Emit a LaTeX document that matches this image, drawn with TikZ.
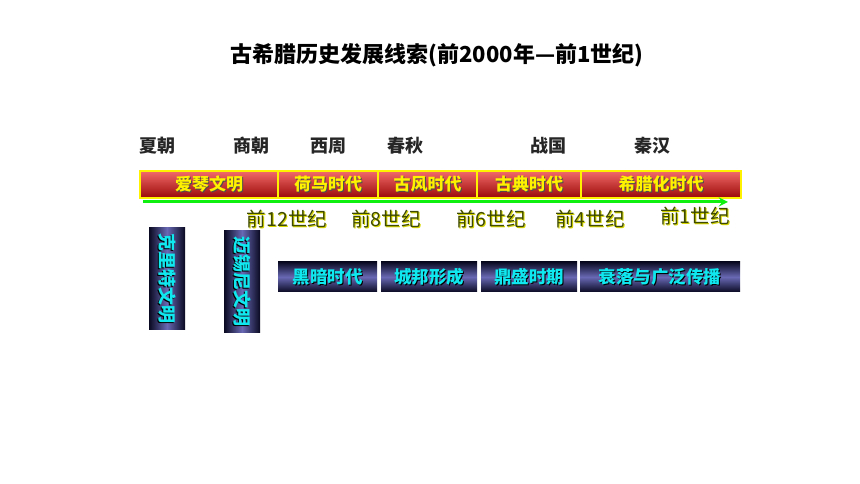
\documentclass[tikz,border=0pt]{standalone}
\usepackage{fontspec}
\setmainfont{Noto Sans CJK SC}
\usetikzlibrary{positioning,arrows}

\definecolor{bartop}{HTML}{F26A6A}
\definecolor{barmid}{HTML}{D42A2A}
\definecolor{barbot}{HTML}{9A0808}
\definecolor{boxedge}{HTML}{0A0A22}
\definecolor{boxmid}{HTML}{6868B4}
\definecolor{boxtext}{HTML}{10E8F0}
\definecolor{olive}{HTML}{3E4A00}
\definecolor{oliveshade}{HTML}{D8D800}
\definecolor{arrowgreen}{HTML}{10F010}

\pgfdeclareverticalshading{darkrow}{100bp}{color(0bp)=(boxedge); color(25bp)=(boxedge);
    color(50bp)=(boxmid); color(75bp)=(boxedge); color(100bp)=(boxedge)}
\pgfdeclarehorizontalshading{darkcol}{100bp}{color(0bp)=(boxedge); color(25bp)=(boxedge);
    color(50bp)=(boxmid); color(75bp)=(boxedge); color(100bp)=(boxedge)}

% text with a shadow one point down and right
\newcommand{\shtext}[3]{\makebox[0pt][l]{\hspace{1pt}\raisebox{-1pt}{\textcolor{#2}{#3}}}\textcolor{#1}{#3}}

\begin{document}
\begin{tikzpicture}[x=1pt,y=1pt,>=stealth,
    era box/.style={draw=yellow,line width=1.8pt,outer sep=0pt,inner sep=0pt,
        minimum height=27,top color=bartop,bottom color=barbot,
        font=\fontsize{17}{17}\selectfont\bfseries},
    dark box/.style={inner sep=0pt,outer sep=0pt,minimum height=30,shading=darkrow,
        font=\fontsize{17.5}{17.5}\selectfont\bfseries},
    tall box/.style={inner sep=0pt,outer sep=0pt,minimum width=36,shading=darkcol,
        font=\fontsize{18}{18}\selectfont\bfseries},
    dynasty/.style={font=\fontsize{18}{18}\selectfont\bfseries,text=black!85},
    century/.style={font=\fontsize{19.5}{19.5}\selectfont}]

    \useasboundingbox (0,0) rectangle (860,484);

    \node[font=\fontsize{22}{22}\selectfont\bfseries] (title) at (437,429)
        {古希腊历史发展线索(前2000年—前1世纪)};

    % dynasties
    \node[dynasty] (y1) at (157,338) {夏朝};
    \node[dynasty] (y2) at (251,338) {商朝};
    \node[dynasty] (y3) at (328,338) {西周};
    \node[dynasty] (y4) at (405,338) {春秋};
    \node[dynasty] (y5) at (548,338) {战国};
    \node[dynasty] (y6) at (652,338) {秦汉};

    % red bar
    \node[era box,minimum width=138] (e1) at (209,299.5) {\shtext{yellow}{black!70}{爱琴文明}};
    \node[era box,minimum width=100] (e2) [right=0pt of e1] {\shtext{yellow}{black!70}{荷马时代}};
    \node[era box,minimum width=99]  (e3) [right=0pt of e2] {\shtext{yellow}{black!70}{古风时代}};
    \node[era box,minimum width=104] (e4) [right=0pt of e3] {\shtext{yellow}{black!70}{古典时代}};
    \node[era box,minimum width=160] (e5) [right=0pt of e4] {\shtext{yellow}{black!70}{希腊化时代}};

    % time line
    \coordinate (t0) at (143,282);
    \coordinate (t1) at (728,282);
    \draw[->,arrowgreen,line width=3pt] (t0) -- (t1);

    \node[century] (c1) at (287,264) {\shtext{olive}{oliveshade}{前12世纪}};
    \node[century] (c2) at (386,264) {\shtext{olive}{oliveshade}{前8世纪}};
    \node[century] (c3) at (491,264) {\shtext{olive}{oliveshade}{前6世纪}};
    \node[century] (c4) at (590,264) {\shtext{olive}{oliveshade}{前4世纪}};
    \node[century] (c5) at (695,267) {\shtext{olive}{oliveshade}{前1世纪}};

    % early civilisations
    \node[tall box,minimum height=102] (k1) at (167,205)
        {\rotatebox{-90}{\shtext{boxtext}{black}{克里特文明}}};
    \node[tall box,minimum height=102] (k2) at (242,202)
        {\rotatebox{-90}{\shtext{boxtext}{black}{迈锡尼文明}}};

    % later stages
    \node[dark box,minimum width=99]  (d1) at (327.5,207) {\shtext{boxtext}{black}{黑暗时代}};
    \node[dark box,minimum width=96]  (d2) at (429,207)   {\shtext{boxtext}{black}{城邦形成}};
    \node[dark box,minimum width=96]  (d3) at (529,207)   {\shtext{boxtext}{black}{鼎盛时期}};
    \node[dark box,minimum width=160] (d4) at (660,207)   {\shtext{boxtext}{black}{衰落与广泛传播}};
\end{tikzpicture}
\end{document}
